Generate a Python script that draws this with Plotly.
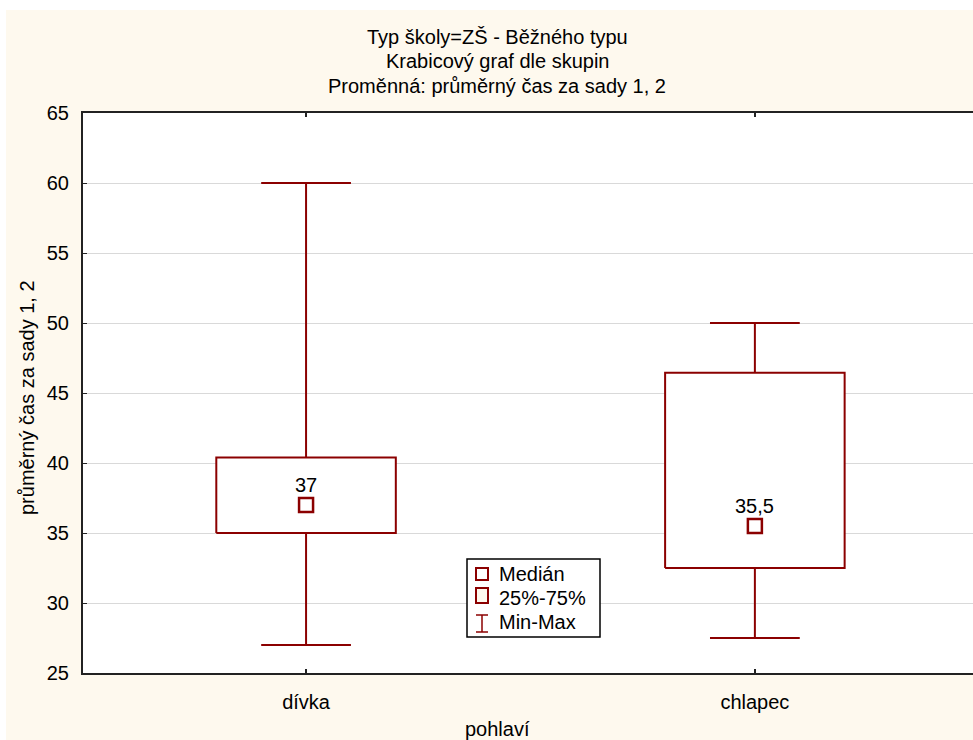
import plotly.graph_objects as go

# ---- data ----
categories = ["dívka", "chlapec"]
mins = [27.0, 27.5]
q1s = [35.0, 32.5]
medians = [37.0, 35.5]
q3s = [40.4, 46.45]
maxs = [60.0, 50.0]

title_lines = ["Typ školy=ZŠ - Běžného typu", "Krabicový graf dle skupin",
               "Proměnná: průměrný čas za sady 1, 2"]
y_title = "průměrný čas za sady 1, 2"
x_title = "pohlaví"
legend_labels = ["Medián", "25%-75%", "Min-Max"]

# ---- style ----
RED = "#8B0000"
CREAM = "#FEF9EE"
FONT = "Liberation Sans, Arial, sans-serif"
FS = 20
W, H = 973, 740
# plot area in page pixel coords
L, R, T, B = 83, 973, 113, 673
BOX_HALF = 0.2
CAP_HALF = 0.1


def px(x):
    return (x - L) / (R - L)


def py(y):
    return (B - y) / (B - T)


def fmt(v):
    return ("%g" % v).replace(".", ",")


fig = go.Figure()
annotations = []

for i, cat in enumerate(categories):
    xc = i + 1
    wx = [xc, xc, None, xc, xc, None,
          xc - CAP_HALF, xc + CAP_HALF, None, xc - CAP_HALF, xc + CAP_HALF]
    wy = [mins[i], q1s[i], None, q3s[i], maxs[i], None,
          mins[i], mins[i], None, maxs[i], maxs[i]]
    fig.add_trace(go.Scatter(x=wx, y=wy, mode="lines",
                             line=dict(color=RED, width=2),
                             showlegend=False, hoverinfo="skip"))
    bx = [xc - BOX_HALF, xc + BOX_HALF, xc + BOX_HALF, xc - BOX_HALF, xc - BOX_HALF]
    by = [q1s[i], q1s[i], q3s[i], q3s[i], q1s[i]]
    fig.add_trace(go.Scatter(x=bx, y=by, mode="lines", fill="toself",
                             fillcolor="white",
                             line=dict(color=RED, width=2),
                             showlegend=False, hoverinfo="skip"))
    fig.add_trace(go.Scatter(x=[xc], y=[medians[i]], mode="markers",
                             marker=dict(symbol="square", size=14, color="white",
                                         line=dict(color=RED, width=2.5)),
                             showlegend=False, hoverinfo="skip"))
    annotations.append(dict(text=fmt(medians[i]), x=xc, y=medians[i],
                            xref="x", yref="y", xanchor="center", yanchor="bottom",
                            yshift=8, borderpad=0, showarrow=False,
                            font=dict(size=FS, color="black", family=FONT)))

shapes = []

# white frame strips around the cream page
shapes.append(dict(type="rect", xref="paper", yref="paper", layer="above",
                   x0=px(0), x1=px(W), y0=py(0), y1=py(10),
                   fillcolor="white", line=dict(width=0)))
shapes.append(dict(type="rect", xref="paper", yref="paper", layer="above",
                   x0=px(0), x1=px(6), y0=py(0), y1=py(H),
                   fillcolor="white", line=dict(width=0)))

# legend frame
shapes.append(dict(type="rect", xref="paper", yref="paper", layer="above",
                   x0=px(467), x1=px(600), y0=py(559), y1=py(637),
                   fillcolor="white", line=dict(color="black", width=1.5)))
# legend glyphs
shapes.append(dict(type="rect", xref="paper", yref="paper", layer="above",
                   x0=px(476), x1=px(488), y0=py(568), y1=py(580),
                   fillcolor="white", line=dict(color=RED, width=2)))
shapes.append(dict(type="rect", xref="paper", yref="paper", layer="above",
                   x0=px(476), x1=px(488), y0=py(588), y1=py(603),
                   fillcolor=CREAM, line=dict(color=RED, width=2)))
shapes.append(dict(type="line", xref="paper", yref="paper", layer="above",
                   x0=px(482), x1=px(482), y0=py(615), y1=py(632),
                   line=dict(color=RED, width=1.5)))
shapes.append(dict(type="line", xref="paper", yref="paper", layer="above",
                   x0=px(476), x1=px(488), y0=py(615), y1=py(615),
                   line=dict(color=RED, width=1.5)))
shapes.append(dict(type="line", xref="paper", yref="paper", layer="above",
                   x0=px(476), x1=px(488), y0=py(632), y1=py(632),
                   line=dict(color=RED, width=1.5)))
for lab, yy in zip(legend_labels, [574, 598, 622]):
    annotations.append(dict(text=lab, xref="paper", yref="paper",
                            x=px(497), y=py(yy), xanchor="left", yanchor="middle",
                            showarrow=False, font=dict(size=FS, color="black", family=FONT)))

for line, yy in zip(title_lines, [37, 61, 86]):
    annotations.append(dict(text=line, xref="paper", yref="paper",
                            x=px(497), y=py(yy), xanchor="center", yanchor="middle",
                            showarrow=False, font=dict(size=FS, color="black", family=FONT)))
annotations.append(dict(text=x_title, xref="paper", yref="paper",
                        x=px(497), y=py(729), xanchor="center", yanchor="middle",
                        showarrow=False, font=dict(size=FS, color="black", family=FONT)))
annotations.append(dict(text=y_title, xref="paper", yref="paper",
                        x=px(27), y=py(398), xanchor="center", yanchor="middle",
                        textangle=-90,
                        showarrow=False, font=dict(size=FS, color="black", family=FONT)))

fig.update_layout(
    width=W, height=H,
    margin=dict(l=L, r=W - R, t=T, b=H - B, pad=0),
    paper_bgcolor=CREAM,
    plot_bgcolor="white",
    font=dict(family=FONT, size=FS, color="black"),
    showlegend=False,
    shapes=shapes,
    annotations=annotations,
)
fig.update_xaxes(range=[0.503, 2.486], tickvals=[1, 2], ticktext=categories,
                 ticks="inside", ticklen=4, tickwidth=2, tickcolor="#222",
                 showline=True, linecolor="#222", linewidth=2, mirror="ticks",
                 showgrid=False, zeroline=False, ticklabelstandoff=10,
                 tickfont=dict(size=FS, family=FONT, color="black"))
fig.update_yaxes(range=[25, 65], dtick=5, tick0=25,
                 ticks="inside", ticklen=4, tickwidth=1, tickcolor="#222",
                 showline=True, linecolor="#222", linewidth=2,
                 showgrid=True, gridcolor="#d9d9d9", gridwidth=1,
                 zeroline=False, ticklabelstandoff=8,
                 tickfont=dict(size=FS, family=FONT, color="black"))

# remove the default page margin so the 973x740 figure fills the window exactly
fig.write_html("out.html",
               config={"displayModeBar": False},
               post_script="document.body.style.margin='0';"
                           "document.body.style.overflow='hidden';")
